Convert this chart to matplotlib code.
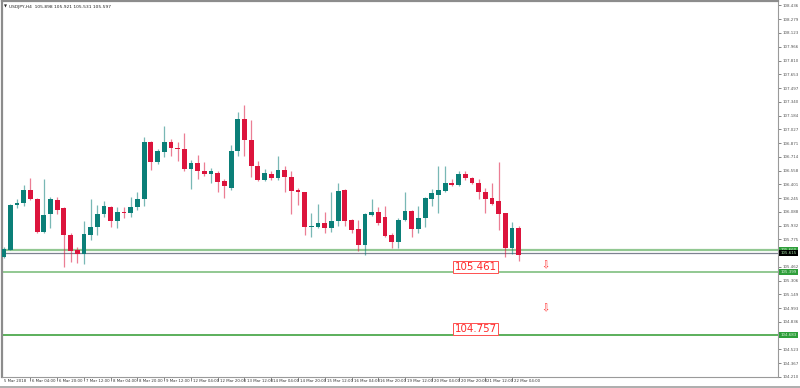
import numpy as np
import matplotlib
matplotlib.use('Agg')
import matplotlib.pyplot as plt
from matplotlib.lines import Line2D

# USDJPY H4, 5 Mar 12:00 .. 22 Mar 08:00
opens = [105.58, 105.66, 106.17, 106.19, 106.34, 106.24, 105.86, 106.06, 106.22, 106.13,
         105.82, 105.65, 105.61, 105.83, 105.92, 106.06, 106.14, 105.98, 106.09, 106.08,
         106.14, 106.23, 106.88, 106.65, 106.77, 106.88, 106.82, 106.80, 106.58, 106.64,
         106.55, 106.52, 106.53, 106.44, 106.36, 106.78, 107.15, 106.91, 106.61, 106.45,
         106.52, 106.47, 106.57, 106.49, 106.34, 106.31, 105.92, 105.92, 105.96, 105.91,
         105.99, 106.34, 106.00, 105.89, 105.71, 106.05, 106.09, 106.03, 105.82, 105.74,
         106.00, 106.10, 105.89, 106.02, 106.24, 106.28, 106.33, 106.42, 106.39, 106.52,
         106.47, 106.42, 106.31, 106.25, 106.21, 106.07, 105.68, 105.91]
highs = [105.69, 106.18, 106.24, 106.39, 106.47, 106.25, 106.46, 106.26, 106.26, 106.14,
         105.85, 105.69, 105.99, 106.24, 106.17, 106.21, 106.15, 106.14, 106.14, 106.26,
         106.31, 106.94, 106.89, 106.80, 107.06, 106.92, 106.88, 106.98, 106.68, 106.74,
         106.65, 106.59, 106.55, 106.46, 106.85, 107.23, 107.30, 107.13, 106.67, 106.58,
         106.55, 106.72, 106.61, 106.55, 106.36, 106.32, 106.08, 106.18, 106.09, 106.31,
         106.42, 106.35, 106.01, 106.00, 106.08, 106.24, 106.14, 106.15, 105.85, 106.02,
         106.31, 106.11, 106.16, 106.26, 106.35, 106.61, 106.61, 106.46, 106.55, 106.55,
         106.49, 106.46, 106.36, 106.42, 106.65, 106.08, 105.97, 105.93]
lows = [105.56, 105.65, 106.13, 106.16, 106.22, 105.85, 105.85, 105.91, 106.06, 105.46,
        105.52, 105.51, 105.50, 105.77, 105.82, 106.03, 105.92, 105.90, 106.02, 106.03,
        106.11, 106.15, 106.57, 106.63, 106.71, 106.72, 106.67, 106.55, 106.35, 106.46,
        106.50, 106.42, 106.31, 106.25, 106.34, 106.72, 106.72, 106.49, 106.44, 106.44,
        106.45, 106.45, 106.32, 106.06, 106.17, 105.82, 105.80, 105.91, 105.85, 105.86,
        105.93, 105.93, 105.85, 105.64, 105.60, 106.04, 105.94, 105.80, 105.68, 105.68,
        105.99, 105.80, 105.85, 105.92, 106.15, 106.08, 106.32, 106.38, 106.38, 106.45,
        106.41, 106.24, 106.07, 106.17, 105.88, 105.58, 105.61, 105.53]
closes = [105.67, 106.17, 106.19, 106.34, 106.23, 105.86, 106.05, 106.23, 106.11, 105.82,
          105.64, 105.61, 105.84, 105.92, 106.06, 106.15, 105.98, 106.09, 106.07, 106.14,
          106.23, 106.88, 106.65, 106.78, 106.88, 106.82, 106.80, 106.58, 106.64, 106.55,
          106.52, 106.55, 106.43, 106.38, 106.78, 107.15, 106.91, 106.61, 106.45, 106.53,
          106.47, 106.57, 106.48, 106.33, 106.31, 105.92, 105.93, 105.96, 105.91, 105.99,
          106.33, 105.99, 105.88, 105.71, 106.06, 106.09, 105.96, 105.81, 105.74, 106.00,
          106.10, 105.89, 106.02, 106.25, 106.30, 106.34, 106.42, 106.39, 106.52, 106.47,
          106.42, 106.31, 106.24, 106.18, 106.06, 105.68, 105.91, 105.60]

date_ticks = [4, 8, 12, 16, 20, 24, 28, 32, 36, 40, 44, 48, 52, 56, 60, 64, 68, 72, 76]
date_labels = ['6 Mar 04:00', '6 Mar 20:00', '7 Mar 12:00', '8 Mar 04:00', '8 Mar 20:00',
               '9 Mar 12:00', '12 Mar 04:00', '12 Mar 20:00', '13 Mar 12:00', '14 Mar 04:00',
               '14 Mar 20:00', '15 Mar 12:00', '16 Mar 04:00', '16 Mar 20:00', '19 Mar 12:00',
               '20 Mar 04:00', '20 Mar 20:00', '21 Mar 12:00', '22 Mar 04:00']

price_ticks = [104.210, 104.367, 104.523, 104.836, 104.993, 105.149, 105.306,
               105.462, 105.775, 105.932, 106.088, 106.245, 106.401, 106.558,
               106.714, 106.871, 107.027, 107.184, 107.340, 107.497, 107.653, 107.810,
               107.966, 108.123, 108.279, 108.436]

level_lines = [105.660, 105.399, 104.683]
bid = 105.615
target_labels = [105.461, 104.757]
arrow_prices = [105.48, 104.99]

bull = '#0b7f78'
bear = '#dc143c'

o = np.array(opens)
h = np.array(highs)
l = np.array(lows)
c = np.array(closes)
x = np.arange(len(o))
up = c >= o
cols = np.where(up, bull, bear)

fig = plt.figure(figsize=(8, 3.88), dpi=100)
ax = fig.add_axes([2 / 800, 11 / 388, 776 / 800, 376 / 388])

ax.vlines(x, l, h, colors=cols, linewidth=0.9, alpha=0.55, zorder=2)
body = np.maximum(np.abs(c - o), 0.012)
ax.bar(x, body, bottom=np.minimum(o, c), width=0.72, color=cols, linewidth=0, zorder=3)

# horizontal levels
ax.axhline(level_lines[0], color='#92c892', linewidth=1.6, zorder=1)
ax.axhline(level_lines[1], color='#92c892', linewidth=1.4, zorder=1)
ax.axhline(level_lines[2], color='#2f9a2f', linewidth=1.1, zorder=1)
ax.axhline(bid, color='#7d8290', linewidth=0.9, zorder=1)

for p in target_labels:
    ax.text(67.4, p, '%.3f' % p, color='#ff2a2a', fontsize=7.4, va='center', ha='left',
            bbox=dict(boxstyle='square,pad=0.12', fc='white', ec='#ff5050', lw=0.7), zorder=5)
for p in arrow_prices:
    ax.text(81.0, p, '\u21e9', color='#ff3030', fontsize=7, va='center', ha='center', zorder=5)

ax.set_xlim(-0.25, 115.75)
ax.set_ylim(104.218, 108.487)

# right price scale
ax.yaxis.tick_right()
ax.set_yticks(price_ticks)
ax.set_yticklabels(['%.3f' % t for t in price_ticks])
ax.tick_params(axis='y', length=2, width=0.5, pad=1.5, labelsize=2.9, colors='#555555')
ax.set_xticks(date_ticks)
ax.set_xticklabels([])
ax.tick_params(axis='x', length=3, width=0.5, colors='#555555')

for t, s in zip(date_ticks, date_labels):
    ax.text(t + 0.3, -0.006, s, transform=ax.get_xaxis_transform(), fontsize=2.8,
            color='#333333', va='top', ha='left', clip_on=False)
ax.text(0.0, -0.006, '5 Mar 2018', transform=ax.get_xaxis_transform(), fontsize=2.8,
        color='#333333', va='top', ha='left', clip_on=False)

# coloured labels on price scale
yt = ax.get_yaxis_transform()
for p, fc, tc in [(level_lines[0], '#2e9e3a', '#d8f0d8'), (level_lines[1], '#2e9e3a', '#d8f0d8'),
                  (level_lines[2], '#2e9e3a', '#d8f0d8'), (bid, '#000000', '#a0e0a0')]:
    ax.text(1.003, p, '%.3f' % p, transform=yt, fontsize=2.9, color=tc, va='center', ha='left',
            bbox=dict(boxstyle='square,pad=0.25', fc=fc, ec='none'), clip_on=False, zorder=6)

for sp in ax.spines.values():
    sp.set_color('#9a9a9a')
    sp.set_linewidth(0.8)
ax.spines['left'].set_color('#8c8c8c')
ax.spines['left'].set_linewidth(1.6)
ax.spines['top'].set_color('#8c8c8c')
ax.spines['top'].set_linewidth(1.6)

fig.add_artist(Line2D([0, 1], [0.003, 0.003], color='#a0a0a0', linewidth=1.2))

fig.text(4 / 800, 1 - 7 / 388, '\u25bc', fontsize=2.8, color='#222222', va='center')
fig.text(9 / 800, 1 - 7 / 388, 'USDJPY,H4  105.898 105.921 105.531 105.597', fontsize=3.2,
         color='#222222', va='center')

fig.savefig('out.png', dpi=100, facecolor='white')
